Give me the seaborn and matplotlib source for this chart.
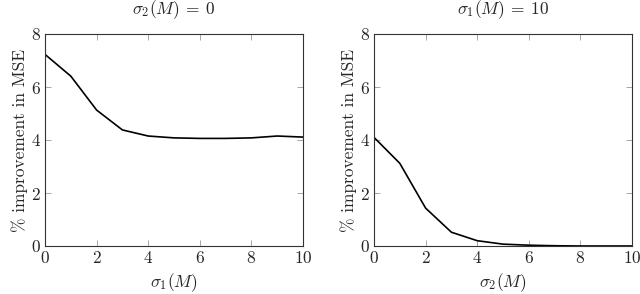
import numpy as np
import pandas as pd
import matplotlib
matplotlib.use("Agg")
import matplotlib.pyplot as plt
import seaborn as sns

# values
sigma = [0, 1, 2, 3, 4, 5, 6, 7, 8, 9, 10]
improve_left = [7.23, 6.41, 5.13, 4.38, 4.15, 4.08, 4.06, 4.06, 4.08, 4.15, 4.11]
improve_right = [4.10, 3.12, 1.43, 0.52, 0.20, 0.07, 0.03, 0.01, 0.0, 0.0, 0.0]

titles = [r"$\sigma_2(M) \:=\: 0$", r"$\sigma_1(M) \:=\: 10$"]
xlabels = [r"$\sigma_1(M)$", r"$\sigma_2(M)$"]
ylabel = "% improvement in MSE"

sns.set_style("ticks")
plt.rcParams["font.family"] = ["serif"]
plt.rcParams["font.serif"] = ["cmr10", "DejaVu Serif"]
plt.rcParams["mathtext.fontset"] = "cm"
plt.rcParams["axes.formatter.use_mathtext"] = True

fs = 12.5

fig = plt.figure(figsize=(6.4, 2.94), dpi=100)
ax1 = fig.add_axes([45 / 640, 1 - 246 / 294, 258 / 640, 212 / 294])
ax2 = fig.add_axes([374 / 640, 1 - 246 / 294, 258 / 640, 212 / 294])

for ax, yvals, title, xl in zip([ax1, ax2], [improve_left, improve_right], titles, xlabels):
    df = pd.DataFrame({"x": sigma, "y": yvals})
    sns.lineplot(data=df, x="x", y="y", ax=ax, color="black", linewidth=1.2)
    ax.set_xlim(0, 10)
    ax.set_ylim(0, 8)
    ax.set_xticks([0, 2, 4, 6, 8, 10])
    ax.set_yticks([0, 2, 4, 6, 8])
    ax.tick_params(direction="in", length=4, width=0.6, color="#999999",
                   top=True, right=True, labelsize=fs, pad=3)
    for s in ax.spines.values():
        s.set_linewidth(0.8)
        s.set_color("#333333")
    ax.set_title(title, fontsize=fs, pad=14)
    ax.set_xlabel(xl, fontsize=fs, labelpad=4)
    ax.set_ylabel(ylabel, fontsize=fs, labelpad=2)

fig.savefig("out.png", dpi=100)
